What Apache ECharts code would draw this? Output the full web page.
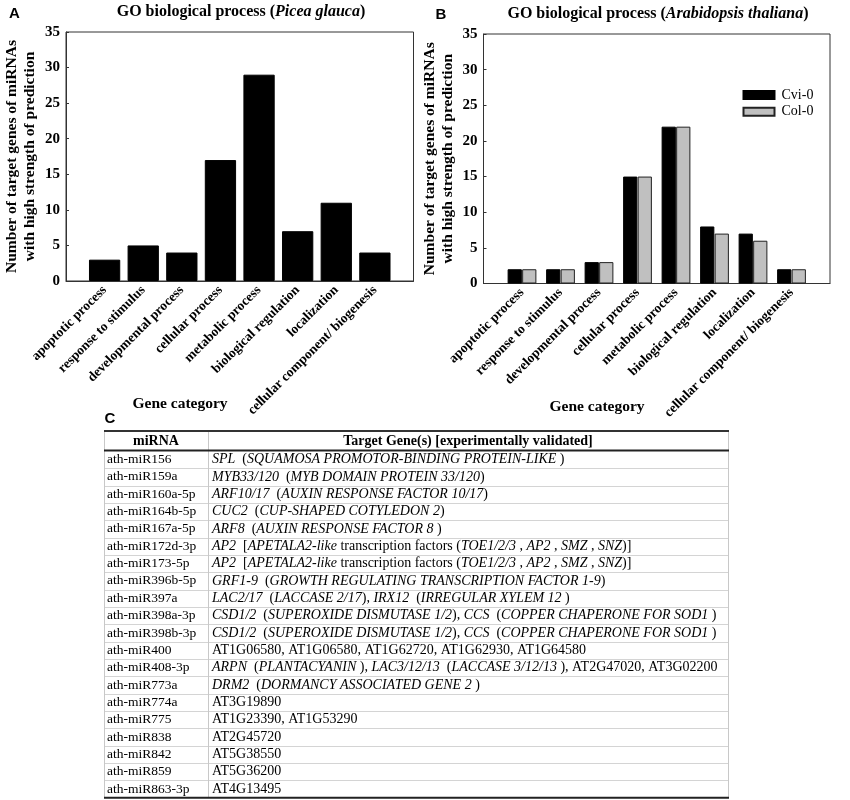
<!DOCTYPE html>
<html><head><meta charset="utf-8">
<script src="https://cdn.jsdelivr.net/npm/echarts@6/dist/echarts.min.js"></script>
<style>html,body{margin:0;padding:0;background:#fff}#c{width:850px;height:800px}</style>
</head><body><div id="c"></div>
<script>
// ---------- data ----------
const categories = ['apoptotic process','response to stimulus','developmental process','cellular process','metabolic process','biological regulation','localization','cellular component/ biogenesis'];
const piceaValues = [3,5,4,17,29,7,11,4];
const cviValues = [2,2,3,15,22,8,7,2];
const colValues = [2,2,3,15,22,7,6,2];
const yMin = 0, yMax = 35, yStep = 5;
const seriesNames = ['Cvi-0','Col-0'];
const tableHeader = ['miRNA','Target Gene(s) [experimentally validated]'];
const mirnas = ['ath-miR156','ath-miR159a','ath-miR160a-5p','ath-miR164b-5p','ath-miR167a-5p','ath-miR172d-3p','ath-miR173-5p','ath-miR396b-5p','ath-miR397a','ath-miR398a-3p','ath-miR398b-3p','ath-miR400','ath-miR408-3p','ath-miR773a','ath-miR774a','ath-miR775','ath-miR838','ath-miR842','ath-miR859','ath-miR863-3p'];
// *...* marks italic text
const targets = [
 '*SPL*  (*SQUAMOSA PROMOTOR-BINDING PROTEIN-LIKE* )',
 '*MYB33/120*  (*MYB DOMAIN PROTEIN 33/120*)',
 '*ARF10/17*  (*AUXIN RESPONSE FACTOR 10/17*)',
 '*CUC2*  (*CUP-SHAPED COTYLEDON 2*)',
 '*ARF8*  (*AUXIN RESPONSE FACTOR 8* )',
 '*AP2*  [*APETALA2-like* transcription factors (*TOE1/2/3* , *AP2* , *SMZ* , *SNZ*)]',
 '*AP2*  [*APETALA2-like* transcription factors (*TOE1/2/3* , *AP2* , *SMZ* , *SNZ*)]',
 '*GRF1-9*  (*GROWTH REGULATING TRANSCRIPTION FACTOR 1-9*)',
 '*LAC2/17*  (*LACCASE 2/17*), *IRX12*  (*IRREGULAR XYLEM 12* )',
 '*CSD1/2*  (*SUPEROXIDE DISMUTASE 1/2*), *CCS*  (*COPPER CHAPERONE FOR SOD1* )',
 '*CSD1/2*  (*SUPEROXIDE DISMUTASE 1/2*), *CCS*  (*COPPER CHAPERONE FOR SOD1* )',
 'AT1G06580, AT1G06580, AT1G62720, AT1G62930, AT1G64580',
 '*ARPN*  (*PLANTACYANIN* ), *LAC3/12/13*  (*LACCASE 3/12/13* ), AT2G47020, AT3G02200',
 '*DRM2*  (*DORMANCY ASSOCIATED GENE 2* )',
 'AT3G19890',
 'AT1G23390, AT1G53290',
 'AT2G45720',
 'AT5G38550',
 'AT5G36200',
 'AT4G13495'
];

// ---------- helpers ----------
const SERIF = '"Liberation Serif","Times New Roman",serif';
const SANS = '"Liberation Sans",Arial,sans-serif';
const pad = a => [null, ...a, null];
const padCats = ['', ...categories, ''];

function xAxisCfg(gi){
  return {gridIndex:gi, type:'category', data:padCats, boundaryGap:false,
    axisLine:{show:true, lineStyle:{color:'#333', width:1}},
    axisTick:{show:false},
    axisLabel:{interval:0, rotate:45, margin:7, color:'#000', fontFamily:SERIF, fontWeight:'bold', fontSize:13.5}
  };
}
function yAxisCfg(gi){
  return {gridIndex:gi, type:'value', min:yMin, max:yMax, interval:yStep,
    name:'Number of target genes of miRNAs\nwith high strength of prediction',
    nameLocation:'middle', nameGap:27,
    nameTextStyle:{color:'#000', fontFamily:SERIF, fontWeight:'bold', fontSize:15.5, lineHeight:18},
    axisLine:{show:true, lineStyle:{color:'#333', width:1}},
    axisTick:{show:true, inside:true, length:3, lineStyle:{color:'#333'}},
    splitLine:{show:false},
    axisLabel:{margin:6, color:'#000', fontFamily:SERIF, fontWeight:'bold', fontSize:15}
  };
}
function rich(s){
  return s.split('*').map((p,k)=> p ? '{' + (k%2 ? 'i' : 'n') + '|' + p + '}' : '').join('');
}
const TFS1 = 13.5, TFS2 = 14;
const cellRich = {
  n:{fontFamily:SERIF, fontSize:TFS2, fill:'#000'},
  i:{fontFamily:SERIF, fontSize:TFS2, fontStyle:'italic', fill:'#000'}
};

// ---------- graphics: titles, labels, table ----------
const graphics = [];
function txt(x, y, text, style){
  graphics.push({type:'text', x, y, silent:true, style:Object.assign({text, fill:'#000', align:'center', verticalAlign:'middle'}, style)});
}
const titleRich = {
  b:{fontFamily:SERIF, fontWeight:'bold', fontSize:16, fill:'#000'},
  bi:{fontFamily:SERIF, fontWeight:'bold', fontStyle:'italic', fontSize:16, fill:'#000'}
};
txt(241, 11.5, '{b|GO biological process (}{bi|Picea glauca}{b|)}', {rich:titleRich});
txt(658, 13.5, '{b|GO biological process (}{bi|Arabidopsis thaliana}{b|)}', {rich:titleRich});
txt(14.5, 14, 'A', {fontFamily:SANS, fontWeight:'bold', fontSize:15});
txt(441, 15, 'B', {fontFamily:SANS, fontWeight:'bold', fontSize:15});
txt(110, 419, 'C', {fontFamily:SANS, fontWeight:'bold', fontSize:15});
txt(180, 404, 'Gene category', {fontFamily:SERIF, fontWeight:'bold', fontSize:15.5});
txt(597, 407, 'Gene category', {fontFamily:SERIF, fontWeight:'bold', fontSize:15.5});

// table layout
const tL = 104, tD = 208, tR = 728, tTop = 431, hBot = 450.5, row0 = 459.5, rowH = 17.35;
const tBot = row0 + (mirnas.length - 0.5) * rowH;
function line(x1,y1,x2,y2,color,w){
  graphics.push({type:'line', silent:true, shape:{x1,y1,x2,y2}, style:{stroke:color, lineWidth:w}});
}
for (let i = 1; i < mirnas.length; i++){
  const y = Math.round(row0 + (i - 0.5) * rowH) + 0.5;
  line(tL, y, tR, y, '#d4d4d4', 1);
}
[tL, tD, tR].forEach(x => line(x + 0.5, tTop, x + 0.5, tBot, '#c8c8c8', 1));
line(tL, tTop, tR + 1, tTop, '#333', 2);
line(tL, hBot, tR + 1, hBot, '#222', 2);
line(tL, tBot, tR + 1, tBot, '#222', 2);
txt((tL + tD) / 2, 441, tableHeader[0], {fontFamily:SERIF, fontWeight:'bold', fontSize:14});
txt((tD + tR) / 2, 441, tableHeader[1], {fontFamily:SERIF, fontWeight:'bold', fontSize:14});
mirnas.forEach((m, i) => {
  const y = row0 + i * rowH;
  txt(tL + 3, y, m, {align:'left', fontFamily:SERIF, fontSize:TFS1});
  txt(tD + 4, y, rich(targets[i]), {align:'left', rich:cellRich});
});

// ---------- chart ----------
const chart = echarts.init(document.getElementById('c'), null, {renderer:'canvas'});
chart.setOption({
  backgroundColor:'#fff',
  animation:false,
  grid:[
    {left:66, right:436.5, top:32, bottom:519, show:true, borderColor:'#333', borderWidth:1, containLabel:false},
    {left:483.5, right:20, top:34, bottom:516.5, show:true, borderColor:'#333', borderWidth:1, containLabel:false}
  ],
  legend:{
    data:seriesNames, orient:'vertical', left:742.5, top:88, padding:0,
    itemWidth:31, itemHeight:8, itemGap:2.7, icon:'rect',
    textStyle:{color:'#000', fontFamily:SERIF, fontSize:14, lineHeight:14, padding:[0,0,0,2]}
  },
  xAxis:[xAxisCfg(0), xAxisCfg(1)],
  yAxis:[yAxisCfg(0), yAxisCfg(1)],
  series:[
    {name:'Picea glauca', type:'bar', xAxisIndex:0, yAxisIndex:0, data:pad(piceaValues), barWidth:'81%',
      itemStyle:{color:'#000', borderColor:'#000', borderWidth:1}},
    {name:seriesNames[0], type:'bar', xAxisIndex:1, yAxisIndex:1, data:pad(cviValues), barWidth:'37%', barGap:'2%',
      itemStyle:{color:'#000', borderColor:'#000', borderWidth:1}},
    {name:seriesNames[1], type:'bar', xAxisIndex:1, yAxisIndex:1, data:pad(colValues), barWidth:'37%', barGap:'2%',
      itemStyle:{color:'#c0c0c0', borderColor:'#222', borderWidth:1}}
  ],
  graphic:graphics
});
</script></body></html>
